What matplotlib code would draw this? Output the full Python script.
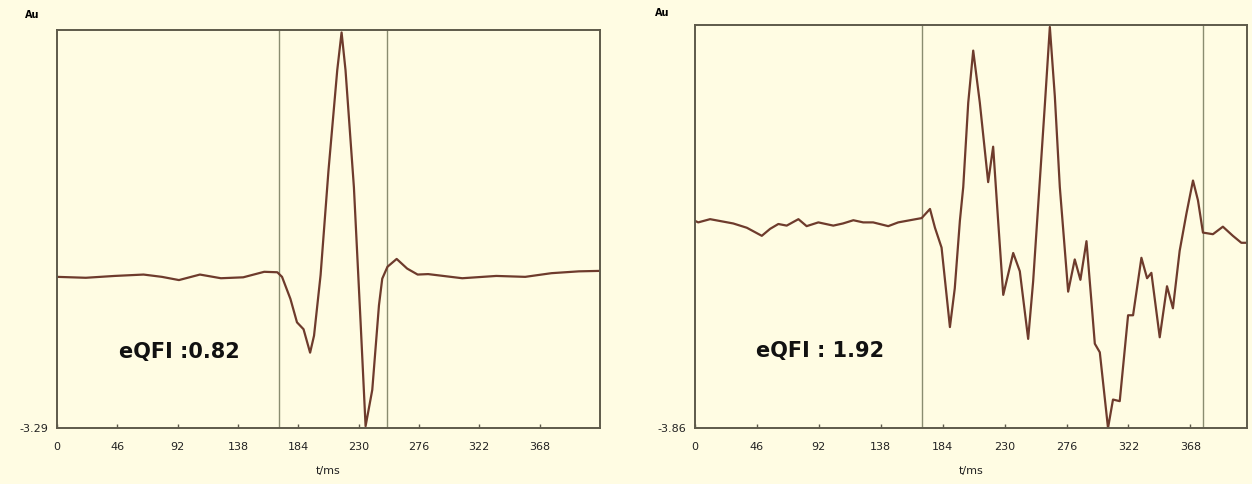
import matplotlib
matplotlib.use('Agg')
import matplotlib.pyplot as plt

# left trace (eQFI 0.82)
left_t = [0, 22, 44, 66, 80, 93, 109, 125, 142, 158, 168, 171.6, 178, 183, 188, 193,
          196, 201, 207, 213.7, 217, 220, 226.4, 231.5, 235.3, 240.4, 245.5, 248,
          252, 259, 267, 275, 283, 309, 335, 357, 377, 398, 414]
left_v = [0, -0.02, 0.02, 0.05, 0, -0.07, 0.05, -0.03, -0.01, 0.11, 0.10, 0.0, -0.48,
          -0.99, -1.14, -1.65, -1.28, 0.04, 2.31, 4.5, 5.32, 4.5, 1.95, -0.99, -3.25,
          -2.46, -0.62, -0.04, 0.22, 0.39, 0.18, 0.05, 0.06, -0.03, 0.02, 0.0, 0.08,
          0.12, 0.13]

# right trace (eQFI 1.92)
right_t = [0, 2.5, 11.3, 28.5, 38.6, 49.7, 55.9, 62, 68.2, 76.9, 83, 91.7, 102.8, 110,
           117.7, 125, 132.4, 143.6, 151, 159.7, 168.4, 174.6, 178.3, 183.2, 189.4,
           193, 196.8, 199.3, 203, 206.7, 211.6, 217.8, 221.5, 225.2, 229, 236.4,
           241.3, 247.5, 251.2, 255, 260, 263.6, 267.3, 271, 277.2, 282.1, 286.3,
           290.8, 294.5, 297, 300.7, 306.8, 310.5, 315.5, 321.7, 325.4, 331.6, 335.8,
           339, 345.2, 350.6, 355, 360, 365, 369.9, 373.6, 377.3, 384.7, 392.1, 399.5,
           405.8, 410]
right_v = [0.0, -0.03, 0.03, -0.05, -0.13, -0.28, -0.15, -0.06, -0.09, 0.03, -0.1,
           -0.03, -0.09, -0.05, 0.01, -0.03, -0.03, -0.1, -0.03, 0.01, 0.05, 0.22,
           -0.13, -0.5, -1.98, -1.26, 0.0, 0.63, 2.2, 3.17, 2.2, 0.72, 1.38, 0.0,
           -1.38, -0.6, -0.94, -2.2, -1.13, 0.31, 2.2, 3.61, 2.32, 0.63, -1.32, -0.72,
           -1.1, -0.38, -1.51, -2.29, -2.45, -3.86, -3.33, -3.36, -1.76, -1.76, -0.69,
           -1.07, -0.97, -2.17, -1.22, -1.63, -0.56, 0.13, 0.75, 0.38, -0.22, -0.25,
           -0.11, -0.28, -0.41, -0.41]

xticks = [0, 46, 92, 138, 184, 230, 276, 322, 368]
left_marks = [169, 252]
right_marks = [168.4, 377]
left_ylim = (-3.29, 5.37)
right_ylim = (-3.86, 3.65)
left_label = 'eQFI :0.82'
right_label = 'eQFI : 1.92'

bg = '#fffce3'
frame = '#5e5a4a'
trace = '#6e3b2c'
mark = '#8a8c70'

fig = plt.figure(figsize=(12.52, 4.84), dpi=100)
fig.patch.set_facecolor(bg)

ax1 = fig.add_axes([0.0455, 0.1157, 0.4337, 0.822])
ax2 = fig.add_axes([0.555, 0.1157, 0.441, 0.833])


def style(ax, t, v, xmax, ylim, marks, label):
    ax.set_facecolor(bg)
    for x in marks:
        ax.axvline(x, color=mark, lw=1.0)
    ax.plot(t, v, color=trace, lw=1.6, solid_joinstyle='round')
    ax.set_xlim(0, xmax)
    ax.set_ylim(*ylim)
    ax.set_xticks(xticks)
    ax.set_xticklabels([str(x) for x in xticks], fontsize=8, color='#222222')
    ax.tick_params(axis='x', direction='in', length=3, width=1, color=frame, pad=10)
    ax.set_yticks([ylim[0]])
    ax.set_yticklabels(['%.2f' % ylim[0]], fontsize=8, color='#222222')
    ax.tick_params(axis='y', length=0, pad=6)
    for s in ax.spines.values():
        s.set_color(frame)
        s.set_linewidth(1.4)
    ax.set_xlabel('t/ms', fontsize=8, labelpad=10, color='#222222')
    ax.text(0.226, 0.19, label, transform=ax.transAxes, ha='center', va='center',
            fontsize=15, fontweight='heavy', color='#111111')


style(ax1, left_t, left_v, 414, left_ylim, left_marks, left_label)
style(ax2, right_t, right_v, 410, right_ylim, right_marks, right_label)

fig.text(0.0256, 0.969, 'Au', fontsize=7, fontweight='bold', ha='center', va='center')
fig.text(0.529, 0.973, 'Au', fontsize=7, fontweight='bold', ha='center', va='center')

fig.savefig('out.png', dpi=100, facecolor=bg)
